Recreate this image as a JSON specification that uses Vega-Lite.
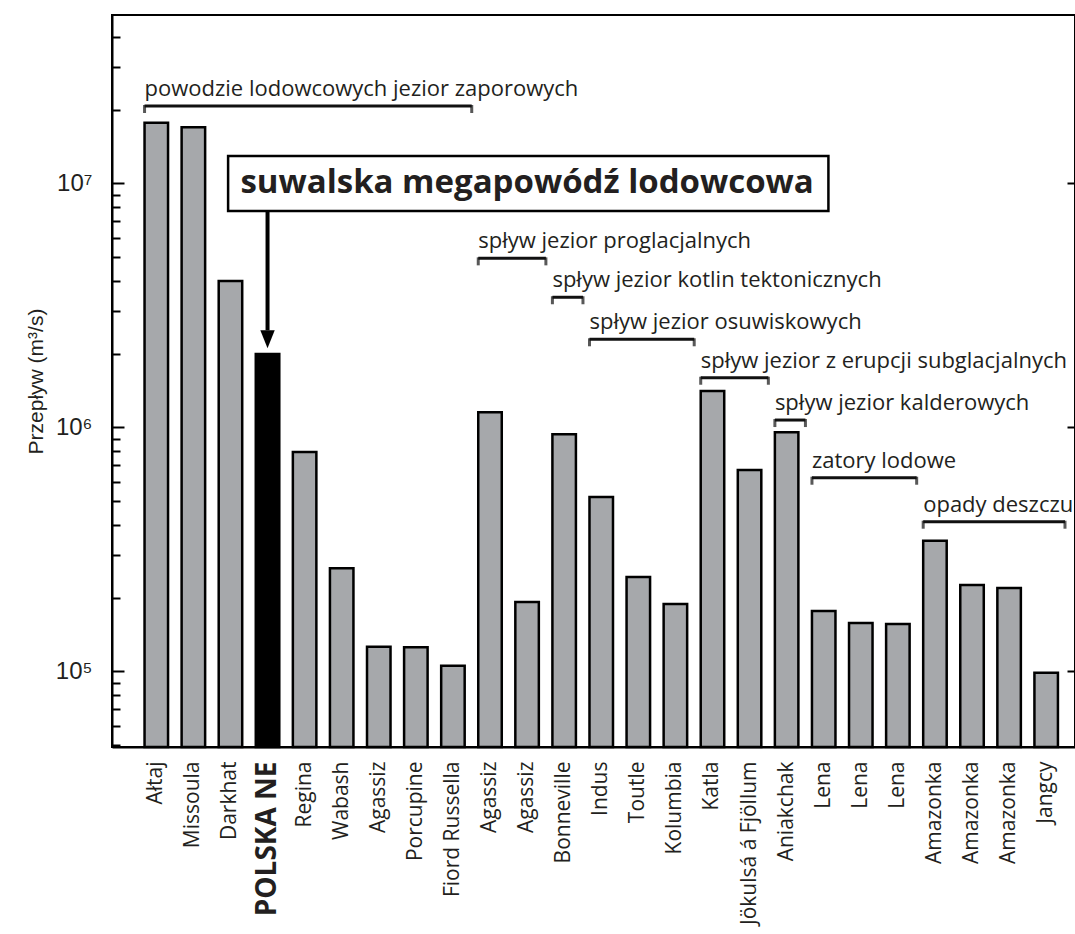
{
  "$schema": "https://vega.github.io/schema/vega-lite/v6.json",
  "width": 963,
  "height": 732,
  "autosize": {"type": "none"},
  "padding": {"left": 112, "top": 15, "right": 0, "bottom": 187},
  "background": "white",
  "config": {
    "view": {"stroke": "black", "strokeWidth": 2},
    "font": "Open Sans"
  },
  "datasets": {
    "bars": [
      {"id": "Ałtaj", "q": 17740000},
      {"id": "Missoula", "q": 16980000},
      {"id": "Darkhat", "q": 3980000},
      {"id": "POLSKA NE", "q": 2000000},
      {"id": "Regina", "q": 793000},
      {"id": "Wabash", "q": 265000},
      {"id": "Agassiz|1", "q": 126200},
      {"id": "Porcupine", "q": 125500},
      {"id": "Fiord Russella", "q": 105500},
      {"id": "Agassiz|2", "q": 1153000},
      {"id": "Agassiz|3", "q": 192500},
      {"id": "Bonneville", "q": 937000},
      {"id": "Indus", "q": 519000},
      {"id": "Toutle", "q": 243700},
      {"id": "Kolumbia", "q": 189000},
      {"id": "Katla", "q": 1410000},
      {"id": "Jökulsá á Fjöllum", "q": 669000},
      {"id": "Aniakchak", "q": 955000},
      {"id": "Lena|1", "q": 176800},
      {"id": "Lena|2", "q": 157900},
      {"id": "Lena|3", "q": 156400},
      {"id": "Amazonka|1", "q": 343300},
      {"id": "Amazonka|2", "q": 226000},
      {"id": "Amazonka|3", "q": 219700},
      {"id": "Jangcy", "q": 98800}
    ],
    "brackets": [
      {"text": "powodzie lodowcowych jezior zaporowych", "from": "Ałtaj", "to": "Fiord Russella", "level": 20760000},
      {"text": "spływ jezior proglacjalnych", "from": "Agassiz|2", "to": "Agassiz|3", "level": 4930000},
      {"text": "spływ jezior kotlin tektonicznych", "from": "Bonneville", "to": "Bonneville", "level": 3415000},
      {"text": "spływ jezior osuwiskowych", "from": "Indus", "to": "Kolumbia", "level": 2297000},
      {"text": "spływ jezior z erupcji subglacjalnych", "from": "Katla", "to": "Jökulsá á Fjöllum", "level": 1598000},
      {"text": "spływ jezior kalderowych", "from": "Aniakchak", "to": "Aniakchak", "level": 1072000},
      {"text": "zatory lodowe", "from": "Lena|1", "to": "Lena|3", "level": 622000},
      {"text": "opady deszczu", "from": "Amazonka|1", "to": "Jangcy", "level": 410700}
    ],
    "callout": [
      {"text": "suwalska megapowódź lodowcowa", "from": "Darkhat", "to": "Lena|1", "at": "Agassiz|3", "top": 12950000, "mid": 10000000, "bottom": 7710000, "target": "POLSKA NE", "shaftEnd": 2500000, "head": 2300000}
    ]
  },
  "resolve": {"axis": {"y": "independent"}},
  "layer": [
    {
      "data": {"name": "bars"},
      "mark": {"type": "bar", "stroke": "black", "strokeWidth": 2.5},
      "encoding": {
        "x": {
          "field": "id", "type": "nominal",
          "scale": {
            "domain": ["Ałtaj", "Missoula", "Darkhat", "POLSKA NE", "Regina", "Wabash", "Agassiz|1", "Porcupine", "Fiord Russella", "Agassiz|2", "Agassiz|3", "Bonneville", "Indus", "Toutle", "Kolumbia", "Katla", "Jökulsá á Fjöllum", "Aniakchak", "Lena|1", "Lena|2", "Lena|3", "Amazonka|1", "Amazonka|2", "Amazonka|3", "Jangcy"],
            "paddingInner": 0.366, "paddingOuter": 0.669, "align": 0.656
          },
          "axis": {
            "title": null,
            "labelExpr": "split(datum.label, '|')[0]",
            "labelAngle": -90,
            "labelAlign": "right",
            "labelBaseline": "middle",
            "labelFont": "Open Sans",
            "labelFontSize": {"condition": {"test": "datum.value === 'POLSKA NE'", "value": 28}, "value": 21},
            "labelFontWeight": {"condition": {"test": "datum.value === 'POLSKA NE'", "value": "bold"}, "value": "normal"},
            "labelColor": "#231f20",
            "labelPadding": 14,
            "labelLimit": 300,
            "ticks": false,
            "domainColor": "black",
            "domainWidth": 2
          }
        },
        "y": {
          "field": "q", "type": "quantitative",
          "scale": {"type": "log", "domain": [49000, 49000000], "nice": false},
          "axis": {
            "orient": "left",
            "title": "Przepływ (m³/s)",
            "titleFont": "Liberation Sans",
            "titleFontSize": 21,
            "titleFontWeight": "normal",
            "titleColor": "#231f20",
            "titlePadding": 9,
            "values": [50000, 60000, 70000, 80000, 90000, 100000, 200000, 300000, 400000, 500000, 600000, 700000, 800000, 900000, 1000000, 2000000, 3000000, 4000000, 5000000, 6000000, 7000000, 8000000, 9000000, 10000000, 20000000, 30000000, 40000000],
            "labelExpr": "datum.value == 100000 ? '10⁵' : datum.value == 1000000 ? '10⁶' : datum.value == 10000000 ? '10⁷' : ''",
            "labelFont": "Liberation Sans",
            "labelFontSize": 24,
            "labelColor": "#231f20",
            "labelPadding": 32,
            "tickSize": {"condition": {"test": "datum.value == 100000 || datum.value == 1000000 || datum.value == 10000000", "value": -12}, "value": -8},
            "tickColor": "black",
            "tickWidth": 2,
            "domainColor": "black",
            "domainWidth": 2,
            "grid": false
          }
        },
        "y2": {"datum": 49000},
        "color": {"condition": {"test": "datum.id === 'POLSKA NE'", "value": "black"}, "value": "#a6a8ab"}
      }
    },
    {
      "data": {"name": "brackets"},
      "mark": {"type": "rule", "strokeWidth": 3, "color": "#111111"},
      "encoding": {
        "x": {"field": "from", "type": "nominal", "bandPosition": 0},
        "x2": {"field": "to", "bandPosition": 1.3},
        "y": {"field": "level", "type": "quantitative",
          "axis": {"orient": "right", "values": [100000, 1000000, 10000000], "labels": false, "title": null, "tickSize": -8, "tickWidth": 2, "tickColor": "black", "domainColor": "black", "domainWidth": 2, "grid": false}}
      }
    },
    {
      "data": {"name": "brackets"},
      "mark": {"type": "tick", "orient": "vertical", "size": 8, "thickness": 3, "yOffset": 3, "color": "#111111"},
      "encoding": {
        "x": {"field": "from", "type": "nominal", "bandPosition": 0},
        "y": {"field": "level", "type": "quantitative", "axis": null}
      }
    },
    {
      "data": {"name": "brackets"},
      "mark": {"type": "tick", "orient": "vertical", "size": 8, "thickness": 3, "yOffset": 3, "color": "#111111"},
      "encoding": {
        "x": {"field": "to", "type": "nominal", "bandPosition": 1.3},
        "y": {"field": "level", "type": "quantitative", "axis": null}
      }
    },
    {
      "data": {"name": "brackets"},
      "mark": {"type": "text", "align": "left", "baseline": "alphabetic", "dy": -10, "font": "Open Sans", "fontSize": 22, "color": "#231f20"},
      "encoding": {
        "x": {"field": "from", "type": "nominal", "bandPosition": 0},
        "y": {"field": "level", "type": "quantitative", "axis": null},
        "text": {"field": "text"}
      }
    },
    {
      "data": {"name": "callout"},
      "mark": {"type": "rect", "fill": "white", "stroke": "black", "strokeWidth": 2.5},
      "encoding": {
        "x": {"field": "from", "type": "nominal", "bandPosition": 0.4},
        "x2": {"field": "to", "bandPosition": 0.7},
        "y": {"field": "top", "type": "quantitative", "axis": null},
        "y2": {"field": "bottom"}
      }
    },
    {
      "data": {"name": "callout"},
      "mark": {"type": "text", "align": "center", "baseline": "middle", "font": "Open Sans", "fontSize": 33, "fontWeight": "bold", "color": "#231f20"},
      "encoding": {
        "x": {"field": "at", "type": "nominal"},
        "y": {"field": "mid", "type": "quantitative", "axis": null},
        "text": {"field": "text"}
      }
    },
    {
      "data": {"name": "callout"},
      "mark": {"type": "rule", "strokeWidth": 4, "color": "black"},
      "encoding": {
        "x": {"field": "target", "type": "nominal"},
        "y": {"field": "bottom", "type": "quantitative", "axis": null},
        "y2": {"field": "shaftEnd"}
      }
    },
    {
      "data": {"name": "callout"},
      "mark": {"type": "point", "shape": "M-0.8,-1L0.8,-1L0,1Z", "size": 324, "filled": true, "color": "black", "opacity": 1},
      "encoding": {
        "x": {"field": "target", "type": "nominal"},
        "y": {"field": "head", "type": "quantitative", "axis": null}
      }
    }
  ]
}
